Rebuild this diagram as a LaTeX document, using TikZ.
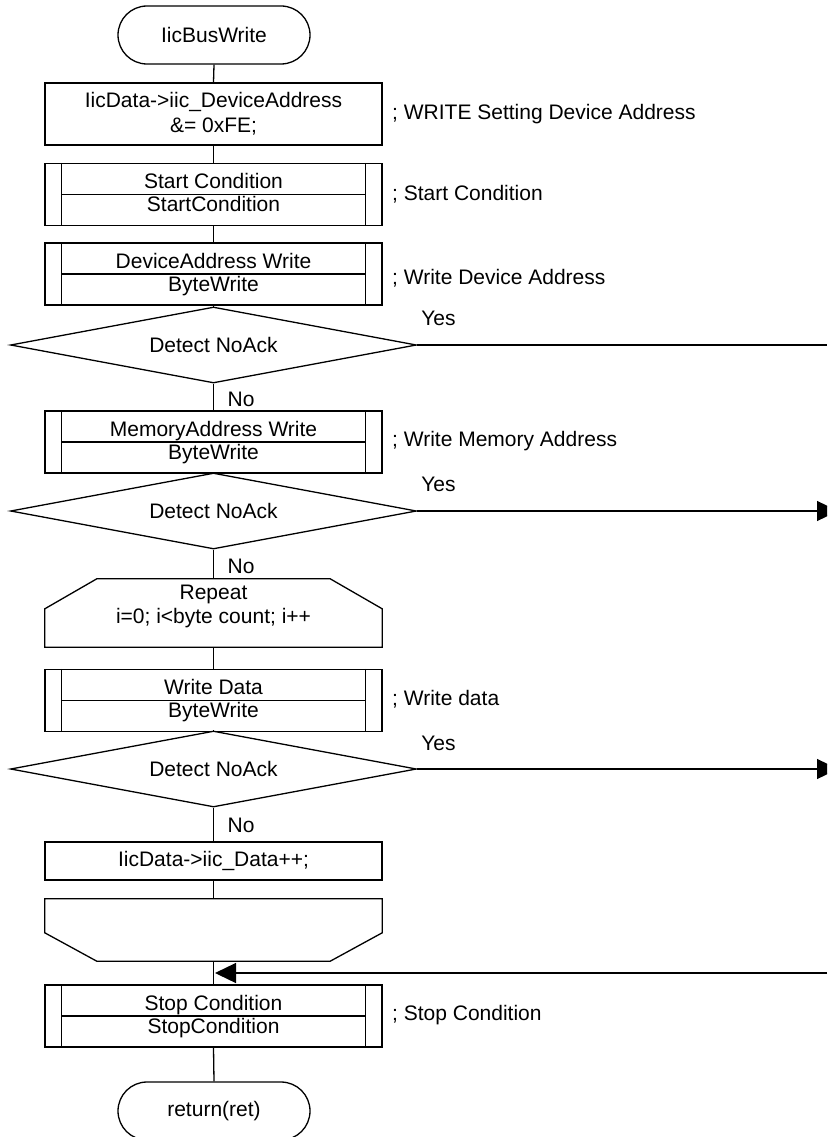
\documentclass[tikz,border=0pt]{standalone}
\usepackage{fontspec}
\setmainfont{Liberation Sans}
\usetikzlibrary{shapes.geometric,arrows.meta,calc}

\tikzset{
  txt/.style={font=\fontsize{21}{25}\selectfont, inner sep=0pt},
  line/.style={line width=1.3pt},
  flowarrow/.style={line width=1.3pt, -{Triangle[length=21pt,width=20pt]}},
  procbox/.style={draw, line width=1.3pt, minimum width=337pt, minimum height=#1,
                  inner sep=0pt, align=center, txt},
  subbox/.style={draw, line width=1.3pt, minimum width=337pt, minimum height=62pt, inner sep=0pt},
  shapebox/.style={minimum width=337pt, minimum height=#1, inner sep=0pt},
  term/.style={draw, line width=1.3pt, rounded corners=29pt, minimum width=192pt,
               minimum height=58pt, inner sep=0pt, txt},
  decision/.style={draw, line width=1.3pt, diamond, shape aspect=5.34, minimum width=406pt,
                   minimum height=76pt, inner sep=0pt, txt},
  comment/.style={anchor=base west, txt},
  branch/.style={anchor=base west, txt},
}

% predefined process: name, centre y, upper text, lower text, comment baseline, comment
\newcommand\subproc[6]{%
  \node[subbox] (#1) at (213.5,#2) {};
  \draw[line] ($(#1.north west)+(17,0)$) -- ($(#1.south west)+(17,0)$)
              ($(#1.north east)+(-17,0)$) -- ($(#1.south east)+(-17,0)$)
              ($(#1.west)+(17,0)$) -- ($(#1.east)+(-17,0)$);
  \node[txt, anchor=base] (#1a) at ($(#1.center)+(0,-6)$) {#3};
  \node[txt, anchor=base] (#1b) at ($(#1.center)+(0,17)$) {#4};
  \node[comment] (#1c) at (392,#5) {#6};
}

\begin{document}
\begin{tikzpicture}[x=1pt, y=-1pt]
  \useasboundingbox (0,0) rectangle (827,1137);
  \clip (0,0) rectangle (827,1137);

  % start
  \node[term] (t1) at (214,35) {IicBusWrite};

  % address setting
  \node[procbox=62pt] (b1) at (213.5,114) {IicData->iic\_DeviceAddress\\\&= 0xFE;};
  \node[comment] (c1) at (392,119.5) {; WRITE Setting Device Address};

  \subproc{b2}{194.5}{Start Condition}{StartCondition}{200}{; Start Condition}
  \subproc{b3}{274}{DeviceAddress Write}{ByteWrite}{284.5}{; Write Device Address}

  \node[decision] (d1) at (213.5,345) {Detect NoAck};

  \subproc{b4}{442}{MemoryAddress Write}{ByteWrite}{446.5}{; Write Memory Address}

  \node[decision] (d2) at (213.5,511) {Detect NoAck};

  % loop start
  \node[shapebox=68pt] (rep) at (213.5,613) {};
  \draw[line] (rep.south west) -- ($(rep.north west)+(0,30)$) -- ($(rep.north west)+(52,0)$)
              -- ($(rep.north east)+(-52,0)$) -- ($(rep.north east)+(0,30)$)
              -- (rep.south east) -- cycle;
  \node[txt, anchor=base] (repa) at (213.5,599) {Repeat};
  \node[txt, anchor=base] (repb) at (213.5,623) {i=0; i<byte count; i++};

  \subproc{b5}{700.5}{Write Data}{ByteWrite}{705.5}{; Write data}

  \node[decision] (d3) at (213.5,769) {Detect NoAck};

  \node[procbox=38pt] (b6) at (213.5,861) {IicData->iic\_Data++;};

  % loop end
  \node[shapebox=62pt] (lend) at (213.5,930) {};
  \draw[line] (lend.north west) -- (lend.north east) -- ($(lend.north east)+(0,34)$)
              -- ($(lend.south east)+(-52,0)$) -- ($(lend.south west)+(52,0)$)
              -- ($(lend.north west)+(0,34)$) -- cycle;

  \subproc{b7}{1016}{Stop Condition}{StopCondition}{1020.5}{; Stop Condition}

  % end
  \node[term] (t2) at (214,1111) {return(ret)};

  % main flow
  \draw[line] (t1.south) -- (b1.north);
  \draw[line] (b1.south) -- (b2.north);
  \draw[line] (b2.south) -- (b3.north);
  \draw[line] (b3.south) -- (d1.north);
  \draw[line] (d1.south) -- (b4.north);
  \draw[line] (b4.south) -- (d2.north);
  \draw[line] (d2.south) -- (rep.north);
  \draw[line] (rep.south) -- (b5.north);
  \draw[line] (b5.south) -- (d3.north);
  \draw[line] (d3.south) -- (b6.north);
  \draw[line] (b6.south) -- (lend.north);
  \draw[line] (lend.south) -- (b7.north);
  \draw[line] (b7.south) -- (t2.north);

  % branch labels
  \node[branch] (n1) at ($(d1.south)!0.5!(b4.north)+(14,9)$) {No};
  \node[branch] (n2) at ($(d2.south)!0.5!(rep.north)+(14,9)$) {No};
  \node[branch] (n3) at ($(d3.south)!0.5!(b6.north)+(14,8)$) {No};
  \node[branch] (y1) at ($(d1.east)+(4,-20)$) {Yes};
  \node[branch] (y2) at ($(d2.east)+(4,-20)$) {Yes};
  \node[branch] (y3) at ($(d3.east)+(4,-19)$) {Yes};

  % exits on NoAck and re-entry before stop
  \coordinate (x1) at (827,345);
  \coordinate (x2) at (838,511);
  \coordinate (x3) at (838,769);
  \coordinate (x4) at (827,973);
  \coordinate (j4) at (215,973);
  \draw[line] (d1.east) -- (x1);
  \draw[flowarrow] (d2.east) -- (x2);
  \draw[flowarrow] (d3.east) -- (x3);
  \draw[flowarrow] (x4) -- (j4);
\end{tikzpicture}
\end{document}
